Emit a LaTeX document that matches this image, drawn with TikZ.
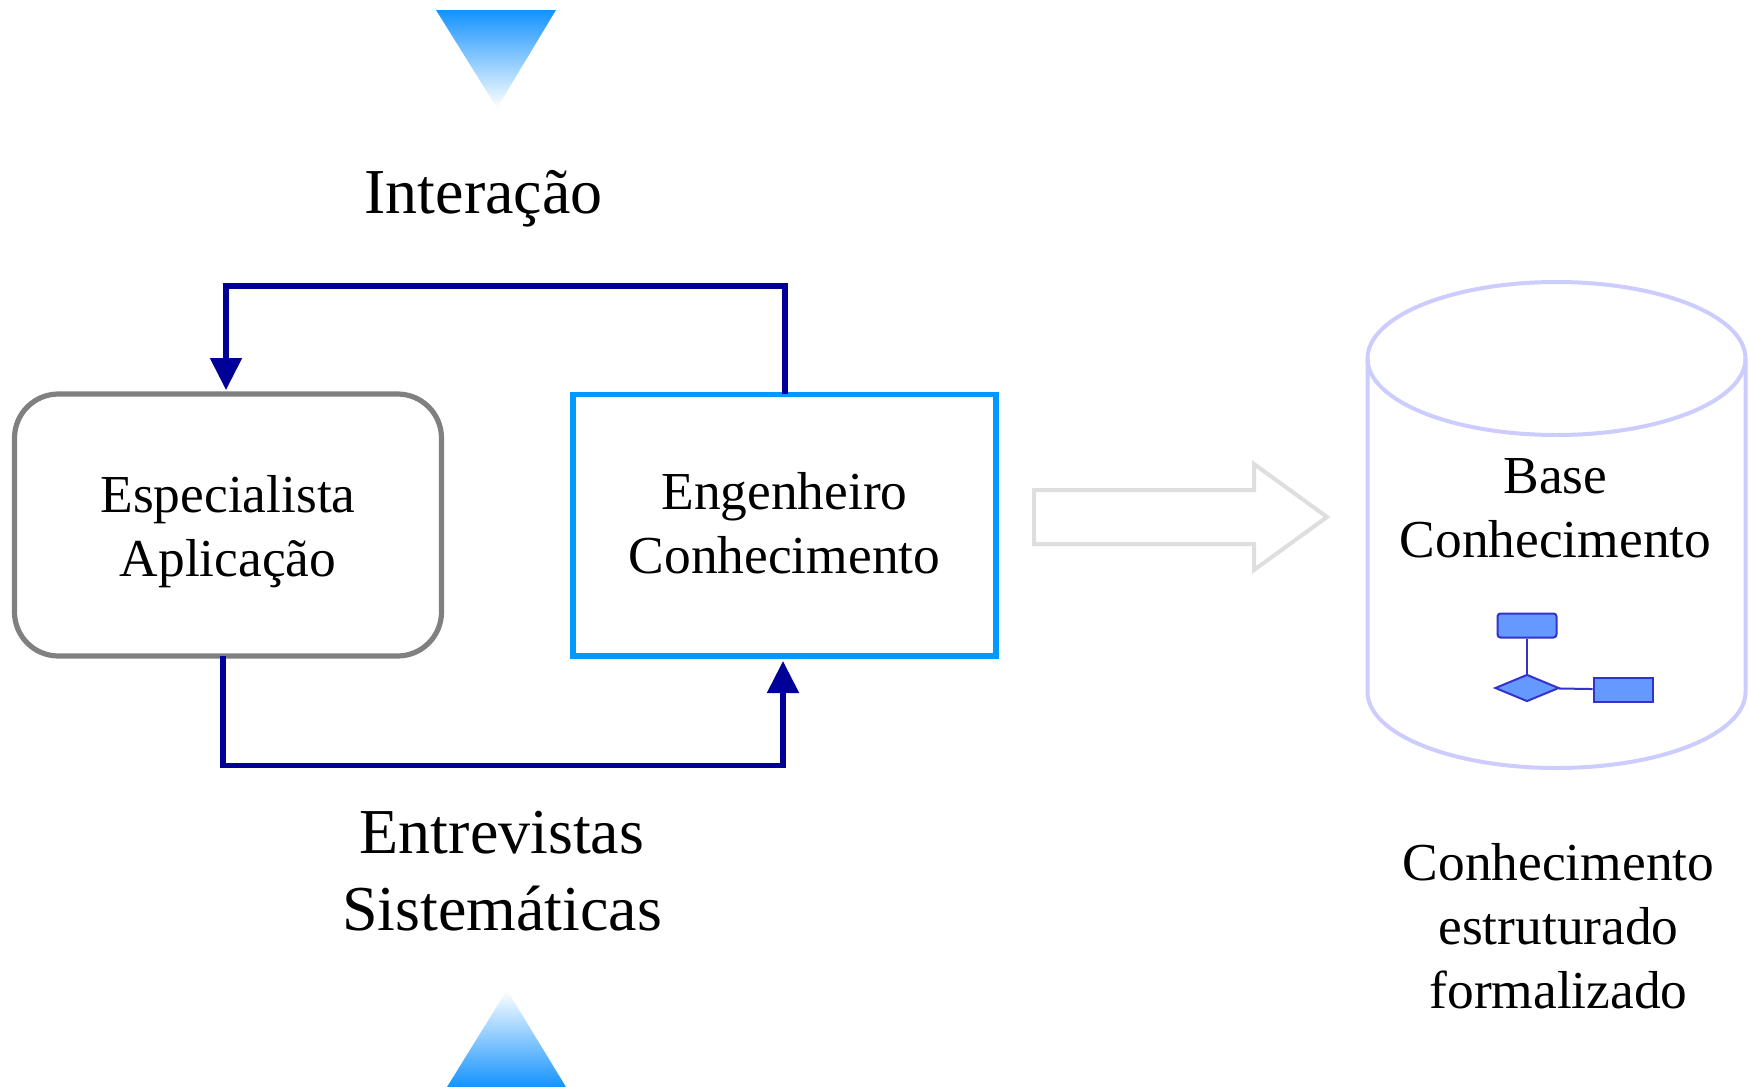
\documentclass[tikz,border=0pt]{standalone}
\usepackage{fontspec}
\setmainfont{Liberation Serif}
\usetikzlibrary{arrows.meta,shapes.geometric,calc}
\definecolor{navy}{HTML}{000099}
\definecolor{skyb}{HTML}{0099FF}
\definecolor{grayb}{HTML}{808080}
\definecolor{lav}{HTML}{CCCCFF}
\definecolor{lgray}{HTML}{DEDEDE}
\definecolor{erfill}{HTML}{6699FF}
\definecolor{erline}{HTML}{3333CC}
\definecolor{gradtop}{HTML}{1493FF}
\definecolor{gradmid}{HTML}{A4CAFF}
\tikzset{
  box/.style={draw,line width=5.2pt,inner sep=0pt,align=center,font=\fontsize{53.4}{64}\selectfont},
  conn/.style={draw=navy,line width=5.2pt,-{Triangle[length=32pt,width=31pt]}},
  lbl/.style={inner sep=0pt,align=center,font=\fontsize{64}{77}\selectfont},
  lblsm/.style={inner sep=0pt,align=center,font=\fontsize{53.4}{64}\selectfont},
  erbox/.style={draw=erline,fill=erfill,line width=2pt,inner sep=0pt},
  erlink/.style={draw=erline,line width=2pt},
  tri/.style={top color=gradtop,middle color=gradmid,bottom color=white,draw=none},
  triup/.style={top color=white,middle color=gradmid,bottom color=gradtop,draw=none}
}
\begin{document}
\begin{tikzpicture}[x=1pt,y=-1pt]
\useasboundingbox (0,0) rectangle (1749,1087);
\fill[white] (0,0) rectangle (1749,1087);
% gradient triangles
\shade[tri] (436,10) -- (556,10) -- (497,108) -- cycle;
\shade[triup] (447,1087) -- (566,1087) -- (507,990) -- cycle;
% labels
\node[lbl] (interacao) at (483.5,199) {Interação};
\node[lbl] (entrevistas) at (502,871.5) {Entrevistas\\Sistemáticas};
% boxes
\node[box,draw=grayb,rounded corners=44pt,minimum width=427pt,minimum height=262pt] (spec) at (228,525) {\rule{0pt}{51pt}Especialista\\Aplicação};
\node[box,draw=skyb,minimum width=423pt,minimum height=261.5pt] (eng) at (784.5,525.2) {Engenheiro\\\rule[-4pt]{0pt}{0pt}Conhecimento};
% connectors
\coordinate (engTop) at (785,394);
\coordinate (specTop) at (226,390);
\coordinate (specBot) at (223,656);
\coordinate (engBot) at (783,661);
\draw[conn] (engTop) -- (785,286) -- (226,286) -- (specTop);
\draw[conn] (specBot) -- (223,765.5) -- (783,765.5) -- (engBot);
% big arrow
\draw[lgray,line width=4pt,miter limit=10] (1034,490) -- (1254,490) -- (1254,464) -- (1327,517) -- (1254,570) -- (1254,544) -- (1034,544) -- cycle;
% cylinder
\draw[lav,line width=4pt] (1367.5,358.5) arc[x radius=189,y radius=76.5,start angle=180,end angle=-180];
\draw[lav,line width=4pt] (1367.5,358.5) -- (1367.5,692) arc[x radius=189,y radius=76,start angle=180,end angle=0] -- (1745.5,358.5);
\node[lblsm] (base) at (1555.5,508) {Base\\Conhecimento};
% ER icon
\node[erbox,rounded corners=3pt,minimum width=59pt,minimum height=24pt] (ent1) at (1527,625.5) {};
\node[erbox,diamond,aspect=2.4,minimum width=64pt,minimum height=27pt] (rel) at (1527,688) {};
\node[erbox,minimum width=59pt,minimum height=24pt] (ent2) at (1623,689.5) {};
\draw[erlink] (ent1) -- (rel);
\draw[erlink] (rel) -- (ent2);
\node[lblsm] (conh) at (1558.5,926) {Conhecimento\\estruturado\\formalizado};
\end{tikzpicture}
\end{document}
